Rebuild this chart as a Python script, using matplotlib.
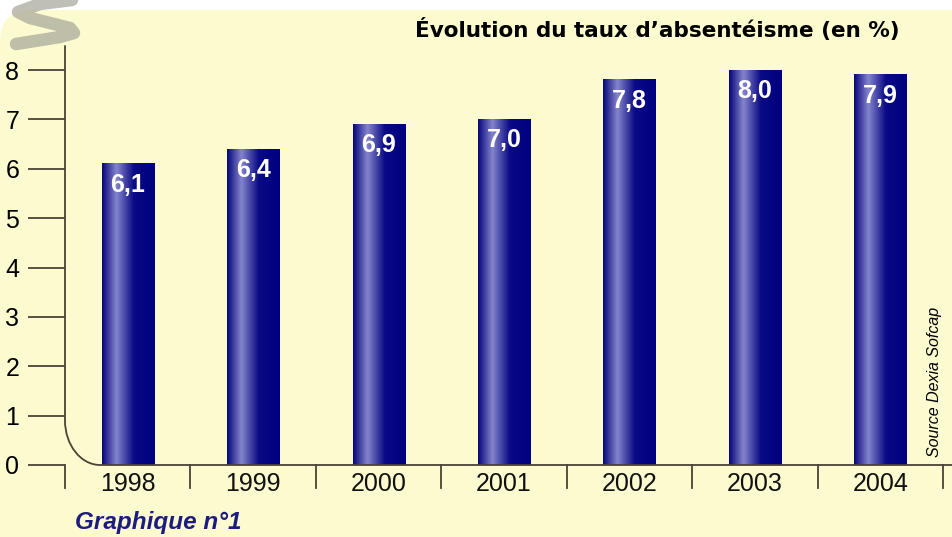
import numpy as np
import matplotlib
matplotlib.use("Agg")
import matplotlib.pyplot as plt
from matplotlib.patches import FancyBboxPatch, PathPatch
from matplotlib.path import Path
from matplotlib.colors import LinearSegmentedColormap

years = ["1998", "1999", "2000", "2001", "2002", "2003", "2004"]
taux = [6.1, 6.4, 6.9, 7.0, 7.8, 8.0, 7.9]
taux_labels = ["6,1", "6,4", "6,9", "7,0", "7,8", "8,0", "7,9"]
y_ticks = [0, 1, 2, 3, 4, 5, 6, 7, 8]

W, H = 953, 537
fig = plt.figure(figsize=(W / 100, H / 100), dpi=100)
fig.patch.set_facecolor("white")

# fond jaune pâle arrondi
bg = FancyBboxPatch((0, -40), W + 60, H + 30, boxstyle="round,pad=0,rounding_size=32",
                    transform=None, facecolor="#fcfbcf", edgecolor="none", zorder=-10)
fig.patches.append(bg)

# spirale grise en haut à gauche
sq = np.array([(72, 0), (40, 4), (18, 12), (30, 18), (70, 28), (74, 33), (60, 37), (16, 44)])
sq_fig = np.column_stack([sq[:, 0], H - sq[:, 1]])
fig.lines.append(plt.Line2D(sq_fig[:, 0], sq_fig[:, 1], transform=None, color="#a5a598",
                            alpha=0.7, lw=9, solid_capstyle="round", solid_joinstyle="round"))

# axes : 0 -> y=465px, 8 -> y=70px
x0, x1 = 65, 943
ppu = (465 - 70) / 8.0
ax = fig.add_axes([x0 / W, (H - 465) / H, (x1 - x0) / W, 8.5 * ppu / H])
ax.set_facecolor("none")
for s in ax.spines.values():
    s.set_visible(False)

line_col = "#4a4336"

# barres avec dégradé horizontal
cmap = LinearSegmentedColormap.from_list("bar", [
    (0.0, "#05057a"), (0.27, "#8585cc"), (0.6, "#0a0a85"), (1.0, "#000080")])
grad = np.linspace(0, 1, 200).reshape(1, -1)
bw = 0.415
for i, v in enumerate(taux):
    ax.imshow(grad, cmap=cmap, aspect="auto", extent=(i - bw / 2, i + bw / 2, 0, v),
              zorder=2, interpolation="bicubic")
    ax.text(i, v - 0.18, taux_labels[i], ha="center", va="top", color="white",
            fontsize=18, fontweight="bold", family="Liberation Sans", zorder=3)
ax.set_xlim(-0.5, 6.5)
ax.set_ylim(0, 8.5)

# axe vertical avec coin arrondi
rx, ry = 0.28, 0.9
verts = [(-0.5, 8.5), (-0.5, ry), (-0.5, ry * 0.45), (-0.5 + rx * 0.45, 0), (-0.5 + rx, 0),
         (6.5, 0)]
codes = [Path.MOVETO, Path.LINETO, Path.CURVE4, Path.CURVE4, Path.CURVE4, Path.LINETO]
ax.add_patch(PathPatch(Path(verts, codes), facecolor="none", edgecolor=line_col, lw=1.3,
                       clip_on=False, zorder=4))
ax.plot([6.5, 7.0], [0, 0], color=line_col, lw=1.3, clip_on=False)

# graduations Y à gauche
ax.set_yticks(y_ticks)
ax.set_yticklabels([str(t) for t in y_ticks], fontsize=18, family="Liberation Sans")
ax.tick_params(axis="y", length=27, width=1.3, color=line_col, pad=6)

# graduations X : séparateurs sous l'axe
ax.set_xticks([])
sep = np.arange(-0.5, 7.0, 1.0)
for xs in sep:
    ax.plot([xs, xs], [0, -23 / ppu], color=line_col, lw=1.3, clip_on=False)
for i, yr in enumerate(years):
    ax.text(i, -7 / ppu, yr, ha="center", va="top", fontsize=18, family="Liberation Sans",
            color="#111111")

# titre
fig.text(900 / W, 1 - 30 / H, "Évolution du taux d\u2019absentéisme (en %)", ha="right",
         va="center", fontsize=15.5, fontweight="bold", family="DejaVu Sans")

fig.text(75 / W, 1 - 522 / H, "Graphique n°1", ha="left", va="center", fontsize=17.5,
         fontweight="bold", fontstyle="italic", color="#1c1c80", family="Liberation Sans")

fig.text(935 / W, 1 - 382 / H, "Source Dexia Sofcap", rotation=90, ha="center", va="center",
         fontsize=11.5, fontstyle="italic", family="Liberation Sans")

fig.savefig("out.png", dpi=100)
